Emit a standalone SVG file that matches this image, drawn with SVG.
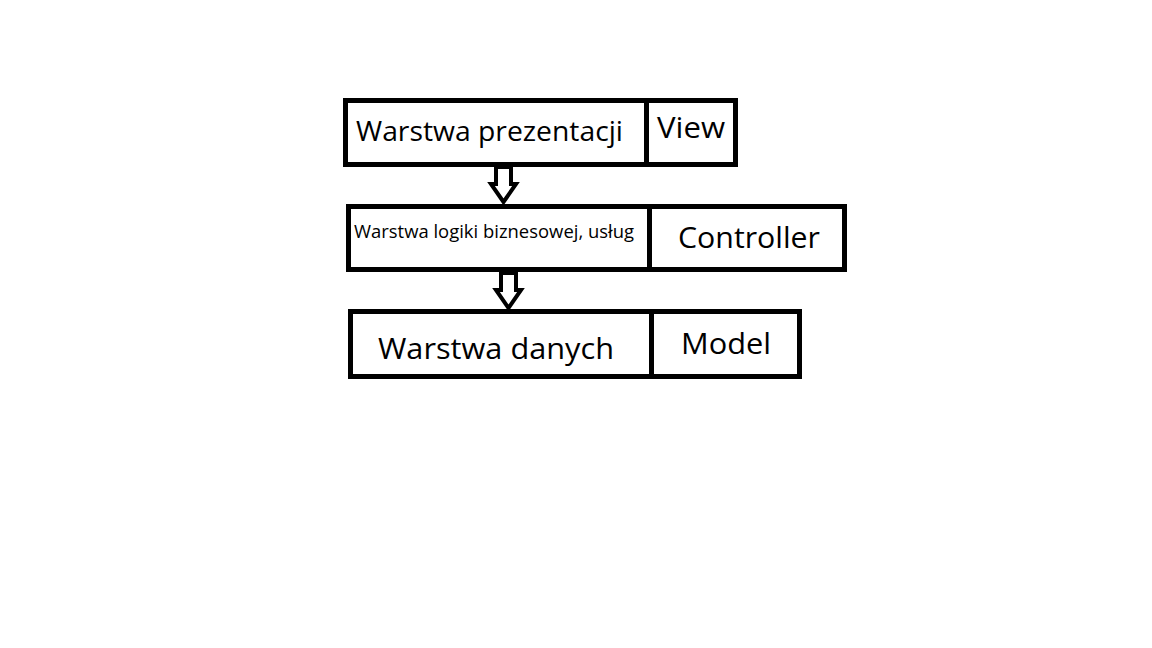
<svg xmlns="http://www.w3.org/2000/svg" width="1152" height="648" viewBox="0 0 1152 648">
<style>
.box{fill:#fff;stroke:#000;stroke-width:5}
.div{stroke:#000;stroke-width:5}
.arr{fill:#fff;stroke:#000;stroke-width:4;stroke-linejoin:miter}
text{font-family:"Open Sans","Noto Sans","Liberation Sans",sans-serif;fill:#000}
</style>
<rect width="1152" height="648" fill="#fff"/>
<g id="connectors">
<polygon class="arr" points="496,167 511,167 511,184 516,184 503.5,202 491,184 496,184"/>
<polygon class="arr" points="501,273 516,273 516,290 521,290 508.5,308 496,290 501,290"/>
</g>
<g id="node-prezentacja">
<rect class="box" x="345.5" y="100.5" width="390" height="64"/>
<line class="div" x1="646.5" y1="100" x2="646.5" y2="165"/>
<text x="356" y="141" font-size="28" textLength="267" lengthAdjust="spacingAndGlyphs">Warstwa prezentacji</text>
<text x="657" y="138" font-size="29" textLength="68" lengthAdjust="spacingAndGlyphs">View</text>
</g>
<g id="node-logika">
<rect class="box" x="348.5" y="206.5" width="496" height="63"/>
<line class="div" x1="649.5" y1="206" x2="649.5" y2="270"/>
<text x="354" y="238" font-size="19" textLength="280" lengthAdjust="spacingAndGlyphs">Warstwa logiki biznesowej, usług</text>
<text x="678" y="248" font-size="29" textLength="142" lengthAdjust="spacingAndGlyphs">Controller</text>
</g>
<g id="node-dane">
<rect class="box" x="350.5" y="311.5" width="449" height="65"/>
<line class="div" x1="651.5" y1="311" x2="651.5" y2="377"/>
<text x="378" y="359" font-size="30" textLength="236" lengthAdjust="spacingAndGlyphs">Warstwa danych</text>
<text x="681" y="354" font-size="29" textLength="90" lengthAdjust="spacingAndGlyphs">Model</text>
</g>
</svg>
